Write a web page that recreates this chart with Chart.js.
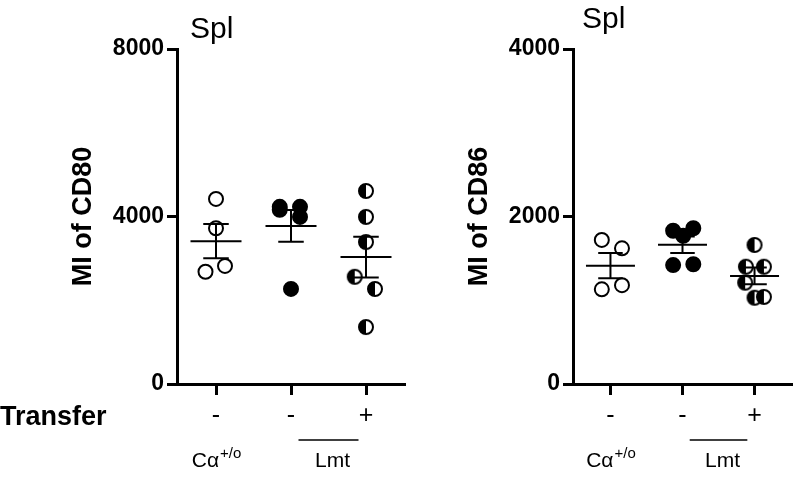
<!DOCTYPE html>
<html>
<head>
<meta charset="utf-8">
<script src="https://cdn.jsdelivr.net/npm/chart.js@4"></script>
<style>
  html, body { margin: 0; padding: 0; background: #fff; }
  #wrap { position: relative; width: 801px; height: 479px; overflow: hidden; }
  canvas { position: absolute; top: 0; }
</style>
</head>
<body>
<div id="wrap">
  <canvas id="cd80" width="420" height="479" style="left:0"></canvas>
  <canvas id="cd86" width="401" height="479" style="left:400px"></canvas>
</div>
<script>
// groups along the x axis
const transferTicks = ['-', '-', '+'];
const groupNames = ['C\u03b1', 'Lmt'];

// CD80 (MI), spleen
const cd80Ca = [4420, 3720, 2680, 2820];
const cd80Lmt = [4230, 4160, 4230, 3990, 2270];
const cd80LmtT = [4610, 3990, 3390, 2560, 2270, 1360];

// CD86 (MI), spleen
const cd86Ca = [1720, 1620, 1130, 1180];
const cd86Lmt = [1830, 1770, 1860, 1420, 1430];
const cd86LmtT = [1660, 1400, 1400, 1210, 1030, 1040];

// horizontal scatter of the dots (category units)
const cd80Jit = [[0, 0, -0.14, 0.12], [-0.15, -0.15, 0.12, 0.12, 0], [0, 0, 0, -0.15, 0.12, 0]];
const cd86Jit = [[-0.12, 0.16, -0.12, 0.16], [-0.13, 0.01, 0.15, -0.13, 0.15], [0, -0.12, 0.13, -0.13, 0, 0.13]];

const BLACK = '#000';
const FONT = "'Liberation Sans', Arial, sans-serif";

function halfDot(r) {
    const c = document.createElement('canvas');
    const s = Math.ceil(r * 2 + 4);
    c.width = s; c.height = s;
    const g = c.getContext('2d');
    const m = s / 2;
    g.fillStyle = '#fff';
    g.beginPath(); g.arc(m, m, r, 0, Math.PI * 2); g.fill();
    g.fillStyle = BLACK;
    g.beginPath(); g.arc(m, m, r, Math.PI / 2, Math.PI * 1.5); g.closePath(); g.fill();
    g.lineWidth = 2; g.strokeStyle = BLACK;
    g.beginPath(); g.arc(m, m, r, 0, Math.PI * 2); g.stroke();
    return c;
}
const halfImg = halfDot(7);

function pts(vals, jit, cat) {
    return vals.map((v, i) => ({ x: cat + jit[i], y: v }));
}

function meanSem(vals) {
    const n = vals.length;
    const m = vals.reduce((a, b) => a + b, 0) / n;
    const sd = Math.sqrt(vals.reduce((a, b) => a + (b - m) * (b - m), 0) / (n - 1));
    return { m: m, sem: sd / Math.sqrt(n) };
}

// mean + SEM bars on top of the dots
const meanPlugin = {
    id: 'meanSem',
    afterDatasetsDraw(chart) {
        const { ctx, scales: { x, y } } = chart;
        ctx.save();
        ctx.strokeStyle = BLACK;
        ctx.lineWidth = 2;
        chart.data.datasets.forEach((ds, i) => {
            const s = meanSem(ds.data.map(p => p.y));
            const cx = x.getPixelForValue(i + 1);
            const hw = x.getPixelForValue(1.34) - x.getPixelForValue(1);
            const cw = x.getPixelForValue(1.17) - x.getPixelForValue(1);
            const ym = y.getPixelForValue(s.m);
            const yt = y.getPixelForValue(s.m + s.sem);
            const yb = y.getPixelForValue(s.m - s.sem);
            ctx.beginPath();
            ctx.moveTo(cx - hw, ym); ctx.lineTo(cx + hw, ym);
            ctx.moveTo(cx, yt); ctx.lineTo(cx, yb);
            ctx.moveTo(cx - cw, yt); ctx.lineTo(cx + cw, yt);
            ctx.moveTo(cx - cw, yb); ctx.lineTo(cx + cw, yb);
            ctx.stroke();
        });
        ctx.restore();
    }
};

// panel title, "Transfer" row name, group names and the Lmt bar
const labelPlugin = {
    id: 'panelLabels',
    afterDraw(chart, args, opts) {
        const { ctx, chartArea, scales: { x } } = chart;
        const b = chartArea.bottom;
        ctx.save();
        ctx.fillStyle = BLACK;
        ctx.textBaseline = 'alphabetic';

        ctx.font = '30px ' + FONT;
        ctx.textAlign = 'left';
        ctx.fillText(opts.title, chartArea.left + opts.titleDx, opts.titleBase);

        if (opts.rowName) {
            ctx.font = 'bold 27px ' + FONT;
            ctx.fillText(opts.rowName, 0, b + 41);
        }

        // C alpha +/o under the first group
        ctx.font = '21px ' + FONT;
        const main = groupNames[0];
        const sup = '+/o';
        const wMain = ctx.measureText(main).width;
        ctx.font = '15px ' + FONT;
        const wSup = ctx.measureText(sup).width;
        let sx = x.getPixelForValue(1) - (wMain + wSup) / 2;
        ctx.font = '21px ' + FONT;
        ctx.fillText(main, sx, b + 83);
        ctx.font = '15px ' + FONT;
        ctx.fillText(sup, sx + wMain + 1, b + 74);

        // Lmt with bar over groups 2 and 3
        const lx = x.getPixelForValue(2.5);
        const hw = x.getPixelForValue(1.4) - x.getPixelForValue(1);
        ctx.strokeStyle = BLACK;
        ctx.lineWidth = 1.5;
        ctx.beginPath();
        ctx.moveTo(lx - hw, b + 56); ctx.lineTo(lx + hw, b + 56);
        ctx.stroke();
        ctx.font = '21px ' + FONT;
        ctx.textAlign = 'center';
        ctx.fillText(groupNames[1], lx + 4, b + 83);
        ctx.restore();
    }
};

function makeChart(id, sets, jit, yMax, yStep, yTitle, pad, labels) {
    const styles = [
        { pointStyle: 'circle', backgroundColor: '#fff', borderColor: BLACK },
        { pointStyle: 'circle', backgroundColor: BLACK, borderColor: BLACK },
        { pointStyle: halfImg, backgroundColor: BLACK, borderColor: BLACK }
    ];
    return new Chart(document.getElementById(id).getContext('2d'), {
        type: 'scatter',
        data: {
            datasets: sets.map((vals, i) => Object.assign({
                data: pts(vals, jit[i], i + 1),
                pointRadius: 7,
                pointHoverRadius: 7,
                borderWidth: 2
            }, styles[i]))
        },
        options: {
            responsive: false,
            animation: false,
            events: [],
            layout: { padding: pad },
            plugins: {
                legend: { display: false },
                tooltip: { enabled: false },
                panelLabels: labels
            },
            scales: {
                x: {
                    type: 'linear',
                    min: 0.48,
                    max: 3.52,
                    afterBuildTicks: s => { s.ticks = transferTicks.map((t, i) => ({ value: i + 1 })); },
                    afterFit: s => { s.height = 95; },
                    border: { display: true, color: BLACK, width: 3 },
                    grid: { drawOnChartArea: false, drawTicks: true, tickLength: 11, tickWidth: 3, tickColor: BLACK },
                    ticks: {
                        color: BLACK,
                        padding: 6,
                        autoSkip: false,
                        maxRotation: 0,
                        font: { family: FONT, size: 25 },
                        callback: (v, i) => transferTicks[i]
                    }
                },
                y: {
                    min: 0,
                    max: yMax,
                    afterFit: s => { s.width = 110; },
                    border: { display: true, color: BLACK, width: 3 },
                    grid: { drawOnChartArea: false, drawTicks: true, tickLength: 10, tickWidth: 3, tickColor: BLACK },
                    ticks: {
                        stepSize: yStep,
                        color: BLACK,
                        padding: 3,
                        font: { family: FONT, size: 23, weight: 'bold' },
                        callback: v => String(v)
                    },
                    title: {
                        display: true,
                        text: yTitle,
                        color: BLACK,
                        padding: 0,
                        font: { family: FONT, size: 27, weight: 'bold' }
                    }
                }
            }
        },
        plugins: [meanPlugin, labelPlugin]
    });
}

makeChart('cd80', [cd80Ca, cd80Lmt, cd80LmtT], cd80Jit, 8000, 4000, 'MI of CD80',
    { left: 67, right: 15, top: 49, bottom: 0 },
    { title: 'Spl', titleDx: 13, titleBase: 38, rowName: 'Transfer' });

makeChart('cd86', [cd86Ca, cd86Lmt, cd86LmtT], cd86Jit, 4000, 2000, 'MI of CD86',
    { left: 63, right: 3, top: 49, bottom: 0 },
    { title: 'Spl', titleDx: 9, titleBase: 28, rowName: '' });
</script>
</body>
</html>
